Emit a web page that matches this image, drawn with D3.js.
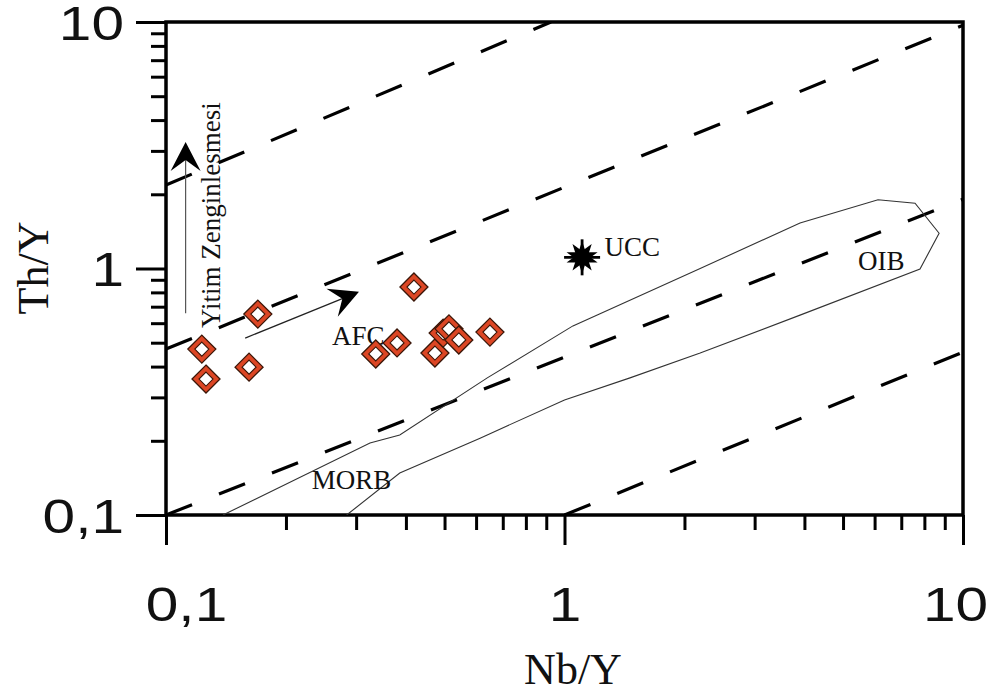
<!DOCTYPE html>
<html><head><meta charset="utf-8">
<script src="https://cdn.jsdelivr.net/npm/d3@7"></script>
<style>html,body{margin:0;padding:0;background:#fff;}</style>
</head><body>
<script>
// ---- data ----
const xTicks = [0.1, 1, 10];
const xTickLabels = ["0,1", "1", "10"];
const yTicks = [0.1, 1, 10];
const yTickLabels = ["0,1", "1", "10"];
// samples: Nb/Y, Th/Y
const sampleNbY = [0.123, 0.126, 0.170, 0.1616, 0.419, 0.336, 0.380, 0.473, 0.496, 0.513, 0.543, 0.650];
const sampleThY = [0.471, 0.356, 0.653, 0.398, 0.841, 0.450, 0.499, 0.454, 0.547, 0.569, 0.513, 0.552];
// UCC
const uccNbY = 1.107, uccThY = 1.11;
// dashed reference lines [x1,y1,x2,y2]
const refLines = [
  [0.1, 2.18, 0.925, 10],
  [0.1, 0.471, 10, 9.7],
  [0.1, 0.1, 10, 1.91],
  [1.0, 0.1, 10, 0.458]
];
// MORB-OIB field outline
const fieldNbY = [0.139, 0.325, 0.386, 0.64, 1.05, 2.19, 3.90, 6.12, 7.58, 8.71, 7.80, 3.90, 2.19, 1.46, 1.0, 0.614, 0.386, 0.284];
const fieldThY = [0.1, 0.196, 0.211, 0.36, 0.585, 1.0, 1.53, 1.90, 1.84, 1.39, 0.995, 0.647, 0.454, 0.36, 0.293, 0.205, 0.148, 0.1];
// arrows [x1,y1,x2,y2]
const arrowSubduction = [0.112, 0.659, 0.112, 3.26];
const arrowAFC = [0.158, 0.522, 0.305, 0.804];
// labels
const labels = [
  {t: "AFC", x: 0.261, y: 0.49},
  {t: "MORB", x: 0.232, y: 0.127},
  {t: "UCC", x: 1.26, y: 1.12},
  {t: "OIB", x: 5.45, y: 0.986}
];
const subductionLabel = {t: "Yitim Zenginlesmesi", x: 0.1366, y: 0.574};

// ---- layout ----
const W = 992, H = 695;
const m = {left: 166, top: 22, right: 29, bottom: 180};
const iw = W - m.left - m.right, ih = H - m.top - m.bottom;

const svg = d3.select("body").append("svg").attr("width", W).attr("height", H);
const g = svg.append("g").attr("transform", `translate(${m.left},${m.top})`);

const x = d3.scaleLog().domain([0.1, 10]).range([0, iw]);
const y = d3.scaleLog().domain([0.1, 10]).range([ih, 0]);

const minor = [];
[0.1, 1].forEach(d => { for (let k = 2; k <= 9; k++) minor.push(d * k); });

// minor ticks
const xMinor = g.append("g").attr("transform", `translate(0,${ih})`)
  .call(d3.axisBottom(x).tickValues(minor).tickSize(15).tickFormat(""));
const yMinor = g.append("g").call(d3.axisLeft(y).tickValues(minor).tickSize(15).tickFormat(""));
// major ticks
const xMajor = g.append("g").attr("transform", `translate(0,${ih})`)
  .call(d3.axisBottom(x).tickValues(xTicks).tickSize(30).tickFormat(""));
const yMajor = g.append("g")
  .call(d3.axisLeft(y).tickValues(yTicks).tickSize(30).tickFormat(""));
[xMinor, yMinor, xMajor, yMajor].forEach(a => {
  a.select(".domain").remove();
  a.selectAll(".tick line").attr("stroke", "#000").attr("stroke-width", 3);
});
// tick labels (slightly wide sans, as in the reference)
const sans = "Liberation Sans, Arial, sans-serif";
const xLabShift = [20, 0, -8];
xMajor.selectAll(".tick").append("text")
  .attr("transform", (d, i) => `translate(${xLabShift[i]},106) scale(1.22,1)`)
  .attr("text-anchor", "middle").attr("font-family", sans).attr("font-size", 48)
  .attr("fill", "#111").text((d, i) => xTickLabels[i]);
yMajor.selectAll(".tick").append("text")
  .attr("transform", `translate(-42,17) scale(1.22,1)`)
  .attr("text-anchor", "end").attr("font-family", sans).attr("font-size", 48)
  .attr("fill", "#111").text((d, i) => yTickLabels[i]);

// frame
g.append("rect").attr("x", 0).attr("y", 0).attr("width", iw).attr("height", ih)
  .attr("fill", "none").attr("stroke", "#000").attr("stroke-width", 3.5);

// dashed lines
svg.append("defs").append("clipPath").attr("id", "clip")
  .append("rect").attr("width", iw).attr("height", ih);
const plot = g.append("g").attr("clip-path", "url(#clip)");
plot.selectAll("line.ref").data(refLines).join("line").attr("class", "ref")
  .attr("x1", d => x(d[0])).attr("y1", d => y(d[1]))
  .attr("x2", d => x(d[2])).attr("y2", d => y(d[3]))
  .attr("stroke", "#000").attr("stroke-width", 3.2)
  .attr("stroke-dasharray", "28,29");

// field outline
const fieldPts = fieldNbY.map((v, i) => [x(v), y(fieldThY[i])]);
plot.append("path").attr("d", d3.line()(fieldPts))
  .attr("fill", "none").attr("stroke", "#333").attr("stroke-width", 1.1);

// arrows
function arrow(a, color) {
  const x1 = x(a[0]), y1 = y(a[1]), x2 = x(a[2]), y2 = y(a[3]);
  const ang = Math.atan2(y2 - y1, x2 - x1);
  g.append("line").attr("x1", x1).attr("y1", y1)
    .attr("x2", x2 - 14 * Math.cos(ang)).attr("y2", y2 - 14 * Math.sin(ang))
    .attr("stroke", color).attr("stroke-width", 1.2);
  const head = "M0,0 L-29,-15 L-18,0 L-29,15 Z";
  g.append("path").attr("d", head)
    .attr("transform", `translate(${x2},${y2}) rotate(${ang * 180 / Math.PI})`)
    .attr("fill", "#000");
}
arrow(arrowSubduction, "#555");
arrow(arrowAFC, "#222");

// serif labels
const serif = "Liberation Serif, Times New Roman, serif";
g.selectAll("text.lab").data(labels).join("text").attr("class", "lab")
  .attr("x", d => x(d.x)).attr("y", d => y(d.y)).text(d => d.t)
  .attr("font-family", serif).attr("font-size", 27).attr("fill", "#111");
g.append("text")
  .attr("transform", `translate(${x(subductionLabel.x)},${y(subductionLabel.y)}) rotate(-90)`)
  .text(subductionLabel.t).attr("font-family", serif).attr("font-size", 27).attr("fill", "#111");

// UCC star
const ux = x(uccNbY), uy = y(uccThY);
const star = g.append("g").attr("transform", `translate(${ux},${uy})`);
star.append("line").attr("x1", -18).attr("x2", 18).attr("y1", 0).attr("y2", 0).attr("stroke", "#000").attr("stroke-width", 2.8);
star.append("line").attr("x1", 0).attr("x2", 0).attr("y1", -18).attr("y2", 18).attr("stroke", "#000").attr("stroke-width", 2.8);
star.append("path").attr("d", d3.symbol().type(d3.symbolStar).size(300)())
  .attr("fill", "#000");
star.append("path").attr("d", d3.symbol().type(d3.symbolStar).size(300)())
  .attr("fill", "#000").attr("transform", "rotate(36)");

// samples
const pts = sampleNbY.map((v, i) => ({x: v, y: sampleThY[i]}));
const sg = g.selectAll("g.samp").data(pts).join("g").attr("class", "samp")
  .attr("transform", d => `translate(${x(d.x)},${y(d.y)})`);
const dia = r => `M0,${-r} L${r},0 L0,${r} L${-r},0 Z`;
sg.append("path").attr("d", dia(14)).attr("fill", "#dc4624").attr("stroke", "#3a1608").attr("stroke-width", 1.3);
sg.append("path").attr("d", dia(7)).attr("fill", "#fff").attr("stroke", "#3a1608").attr("stroke-width", 1.1);

// axis titles
svg.append("text").attr("x", 573).attr("y", 684).attr("text-anchor", "middle")
  .attr("font-family", serif).attr("font-size", 44).attr("fill", "#111").text("Nb/Y");
svg.append("text").attr("transform", "translate(48,268) rotate(-90)").attr("text-anchor", "middle")
  .attr("font-family", serif).attr("font-size", 44).attr("fill", "#111").text("Th/Y");
</script>
</body></html>
